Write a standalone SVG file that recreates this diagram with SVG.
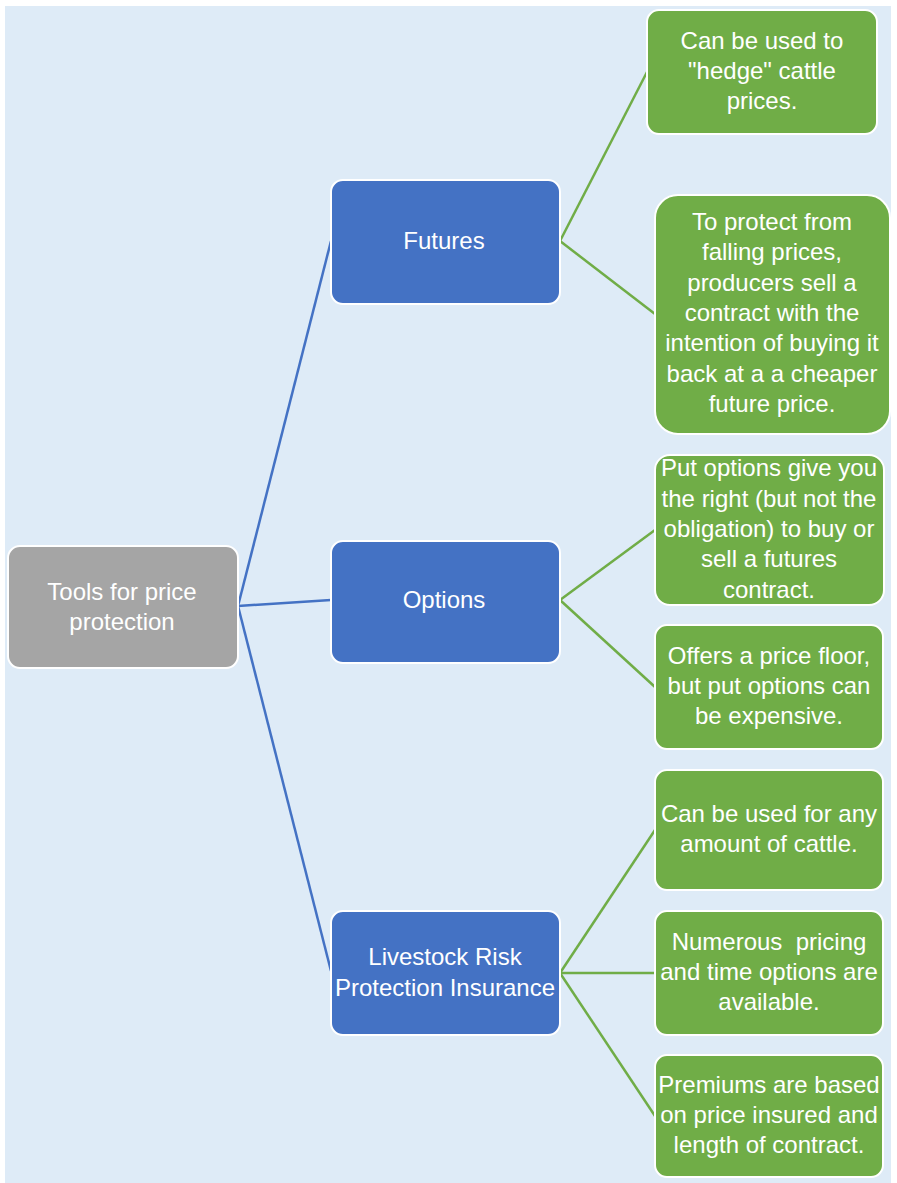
<svg xmlns="http://www.w3.org/2000/svg" width="897" height="1183" viewBox="0 0 897 1183">
<style>
.bg{fill:#DEEBF7}
.root{fill:#A5A5A5;stroke:#FFFFFF;stroke-width:2}
.mid{fill:#4472C4;stroke:#FFFFFF;stroke-width:2}
.leaf{fill:#70AD47;stroke:#FFFFFF;stroke-width:2}
.t{font-family:"Liberation Sans",Arial,sans-serif;font-size:24px;fill:#FFFFFF;text-anchor:middle}
.cb{stroke:#4472C4;stroke-width:2.5;fill:none}
.cg{stroke:#70AD47;stroke-width:2.5;fill:none}
</style>
<rect x="0" y="0" width="897" height="1183" fill="#FFFFFF"/>
<rect class="bg" x="5" y="6" width="886" height="1177"/>
<g id="connectors">
<line class="cb" x1="238" y1="606" x2="331" y2="241"/>
<line class="cb" x1="238" y1="606" x2="331" y2="600"/>
<line class="cb" x1="238" y1="606" x2="331" y2="971"/>
<line class="cg" x1="560" y1="241" x2="647" y2="72"/>
<line class="cg" x1="560" y1="241" x2="655" y2="314"/>
<line class="cg" x1="560" y1="600" x2="655" y2="530"/>
<line class="cg" x1="560" y1="600" x2="655" y2="687"/>
<line class="cg" x1="560" y1="973" x2="655" y2="830"/>
<line class="cg" x1="560" y1="973" x2="655" y2="973"/>
<line class="cg" x1="560" y1="973" x2="655" y2="1116"/>
</g>
<g id="root">
<rect class="root" x="8" y="546" width="230" height="122" rx="12"/>
<text class="t" x="122" y="600">Tools for price</text>
<text class="t" x="122" y="630">protection</text>
</g>
<g id="futures">
<rect class="mid" x="331" y="180" width="229" height="124" rx="12"/>
<text class="t" x="444" y="249">Futures</text>
</g>
<g id="options">
<rect class="mid" x="331" y="541" width="229" height="122" rx="12"/>
<text class="t" x="444" y="608">Options</text>
</g>
<g id="lrp">
<rect class="mid" x="331" y="911" width="229" height="124" rx="12"/>
<text class="t" x="445" y="965">Livestock Risk</text>
<text class="t" x="445" y="996">Protection Insurance</text>
</g>
<g id="futures-1">
<rect class="leaf" x="647" y="10" width="230" height="124" rx="12"/>
<text class="t" x="762" y="49">Can be used to</text>
<text class="t" x="762" y="79">"hedge" cattle</text>
<text class="t" x="762" y="109">prices.</text>
</g>
<g id="futures-2">
<rect class="leaf" x="655" y="195" width="235" height="239" rx="23"/>
<text class="t" x="772" y="230">To protect from</text>
<text class="t" x="772" y="260">falling prices,</text>
<text class="t" x="772" y="291">producers sell a</text>
<text class="t" x="772" y="321">contract with the</text>
<text class="t" x="772" y="351">intention of buying it</text>
<text class="t" x="772" y="382">back at a a cheaper</text>
<text class="t" x="772" y="412">future price.</text>
</g>
<g id="options-1">
<rect class="leaf" x="655" y="455" width="229" height="150" rx="15"/>
<text class="t" x="769" y="476">Put options give you</text>
<text class="t" x="769" y="507">the right (but not the</text>
<text class="t" x="769" y="537">obligation) to buy or</text>
<text class="t" x="769" y="567">sell a futures</text>
<text class="t" x="769" y="598">contract.</text>
</g>
<g id="options-2">
<rect class="leaf" x="655" y="625" width="228" height="124" rx="12"/>
<text class="t" x="769" y="664">Offers a price floor,</text>
<text class="t" x="769" y="694">but put options can</text>
<text class="t" x="769" y="724">be expensive.</text>
</g>
<g id="lrp-1">
<rect class="leaf" x="655" y="770" width="228" height="120" rx="12"/>
<text class="t" x="769" y="822">Can be used for any</text>
<text class="t" x="769" y="852">amount of cattle.</text>
</g>
<g id="lrp-2">
<rect class="leaf" x="655" y="911" width="228" height="124" rx="12"/>
<text class="t" x="769" y="950" xml:space="preserve">Numerous  pricing</text>
<text class="t" x="769" y="980">and time options are</text>
<text class="t" x="769" y="1010">available.</text>
</g>
<g id="lrp-3">
<rect class="leaf" x="655" y="1055" width="228" height="122" rx="12"/>
<text class="t" x="769" y="1093">Premiums are based</text>
<text class="t" x="769" y="1123">on price insured and</text>
<text class="t" x="769" y="1153">length of contract.</text>
</g>
</svg>
